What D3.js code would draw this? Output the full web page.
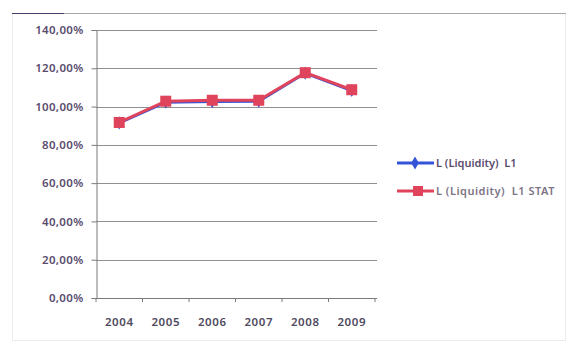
<!DOCTYPE html>
<html>
<head>
<meta charset="utf-8">
<script src="https://cdn.jsdelivr.net/npm/d3@7"></script>
<style>
  html, body { margin: 0; padding: 0; background: #fff; }
  svg text { font-family: "Noto Sans", "Open Sans", sans-serif; }
</style>
</head>
<body>
<svg id="chart" width="570" height="343"></svg>
<script>
// Liquidity ratio by year, two series
const years = ["2004", "2005", "2006", "2007", "2008", "2009"];
const liquidityL1 = [91.5, 102.3, 102.6, 102.8, 117.5, 108.4];
const liquidityL1Stat = [91.7, 102.8, 103.3, 103.3, 117.7, 108.8];
const yTicks = [0, 20, 40, 60, 80, 100, 120, 140];
const seriesNames = ["L (Liquidity)  L1", "L (Liquidity)  L1 STAT"];

const svg = d3.select("#chart");
const plot = { left: 96, right: 375, top: 30, bottom: 298 };

// frame
svg.append("rect").attr("x", 12.5).attr("y", 13.5).attr("width", 553).attr("height", 327)
  .attr("fill", "none").attr("stroke", "#ececec").attr("stroke-width", 1);
svg.append("line").attr("x1", 12).attr("x2", 566).attr("y1", 13.5).attr("y2", 13.5)
  .attr("stroke", "#a8a8a8").attr("stroke-width", 1.2);
svg.append("line").attr("x1", 12).attr("x2", 64).attr("y1", 13.5).attr("y2", 13.5)
  .attr("stroke", "#4a3a6a").attr("stroke-width", 1.2);

const x = d3.scaleBand().domain(years).range([plot.left, plot.right]);
const y = d3.scaleLinear().domain([0, 140]).range([plot.bottom, plot.top]);

// gridlines
svg.append("g").selectAll("line").data(yTicks.filter(d => d > 0)).join("line")
  .attr("x1", plot.left).attr("x2", plot.right + 2)
  .attr("y1", d => Math.round(y(d)) + 0.5).attr("y2", d => Math.round(y(d)) + 0.5)
  .attr("stroke", "#909090").attr("stroke-width", 1);

// y axis
const yAxis = d3.axisLeft(y).tickValues(yTicks).tickSize(5)
  .tickFormat(d => d3.format(".2f")(d).replace(".", ",") + "%");
const gy = svg.append("g").attr("transform", `translate(${plot.left + 0.5},0)`).call(yAxis);
gy.select(".domain").attr("stroke", "#7a7a7a");
gy.selectAll(".tick line").attr("stroke", "#7a7a7a");
gy.selectAll(".tick text").attr("x", -13).attr("fill", "#5a4c6e")
  .style("font-size", "11.5px").style("font-weight", "600").style("letter-spacing", "0.3px");

// x axis
const xAxis = d3.axisBottom(x).tickSize(0);
const gx = svg.append("g").attr("transform", `translate(0,${plot.bottom + 0.5})`).call(xAxis);
gx.select(".domain").attr("stroke", "#7a7a7a").attr("d", `M${plot.left},0H${plot.right + 2}`);
gx.selectAll(".tick text").attr("y", 19).attr("fill", "#4f4a5e")
  .style("font-size", "11.5px").style("font-weight", "600").style("letter-spacing", "0.6px");
svg.append("g").selectAll("line").data(d3.range(years.length + 1)).join("line")
  .attr("x1", i => plot.left + i * x.step()).attr("x2", i => plot.left + i * x.step())
  .attr("y1", plot.bottom).attr("y2", plot.bottom + 4)
  .attr("stroke", "#7a7a7a");

const cx = d => x(d) + x.bandwidth() / 2;
const line = d3.line().x((d, i) => cx(years[i])).y(d => y(d));

const blue = "#3553d6", red = "#e0445c";

// L1 series
svg.append("path").datum(liquidityL1).attr("d", line)
  .attr("fill", "none").attr("stroke", blue).attr("stroke-width", 3);
svg.append("g").selectAll("path").data(liquidityL1).join("path")
  .attr("d", d3.symbol(d3.symbolDiamond, 50))
  .attr("transform", (d, i) => `translate(${cx(years[i])},${y(d)})`)
  .attr("fill", blue);

// L1 STAT series
svg.append("path").datum(liquidityL1Stat).attr("d", line)
  .attr("fill", "none").attr("stroke", red).attr("stroke-width", 3);
svg.append("g").selectAll("rect").data(liquidityL1Stat).join("rect")
  .attr("x", (d, i) => cx(years[i]) - 5.5).attr("y", d => y(d) - 5.5)
  .attr("width", 11).attr("height", 11).attr("fill", red);

// legend
const legend = svg.append("g");
const legendRows = [
  { name: seriesNames[0], color: blue, sym: "diamond", y: 163, text: "#5a4c6e" },
  { name: seriesNames[1], color: red, sym: "square", y: 191, text: "#7d7486" }
];
legendRows.forEach(r => {
  legend.append("line").attr("x1", 397).attr("x2", 434).attr("y1", r.y).attr("y2", r.y)
    .attr("stroke", r.color).attr("stroke-width", 3);
  if (r.sym === "diamond") {
    legend.append("path").attr("d", d3.symbol(d3.symbolDiamond, 50))
      .attr("transform", `translate(415,${r.y})`).attr("fill", r.color);
  } else {
    legend.append("rect").attr("x", 413).attr("y", r.y - 5).attr("width", 10).attr("height", 10)
      .attr("fill", r.color);
  }
  legend.append("text").attr("x", 436).attr("y", r.y + 4).text(r.name)
    .attr("fill", r.text).style("font-size", "11px").style("font-weight", "600")
    .style("letter-spacing", r.sym === "square" ? "0.5px" : "0px")
    .style("white-space", "pre");
});
</script>
</body>
</html>
